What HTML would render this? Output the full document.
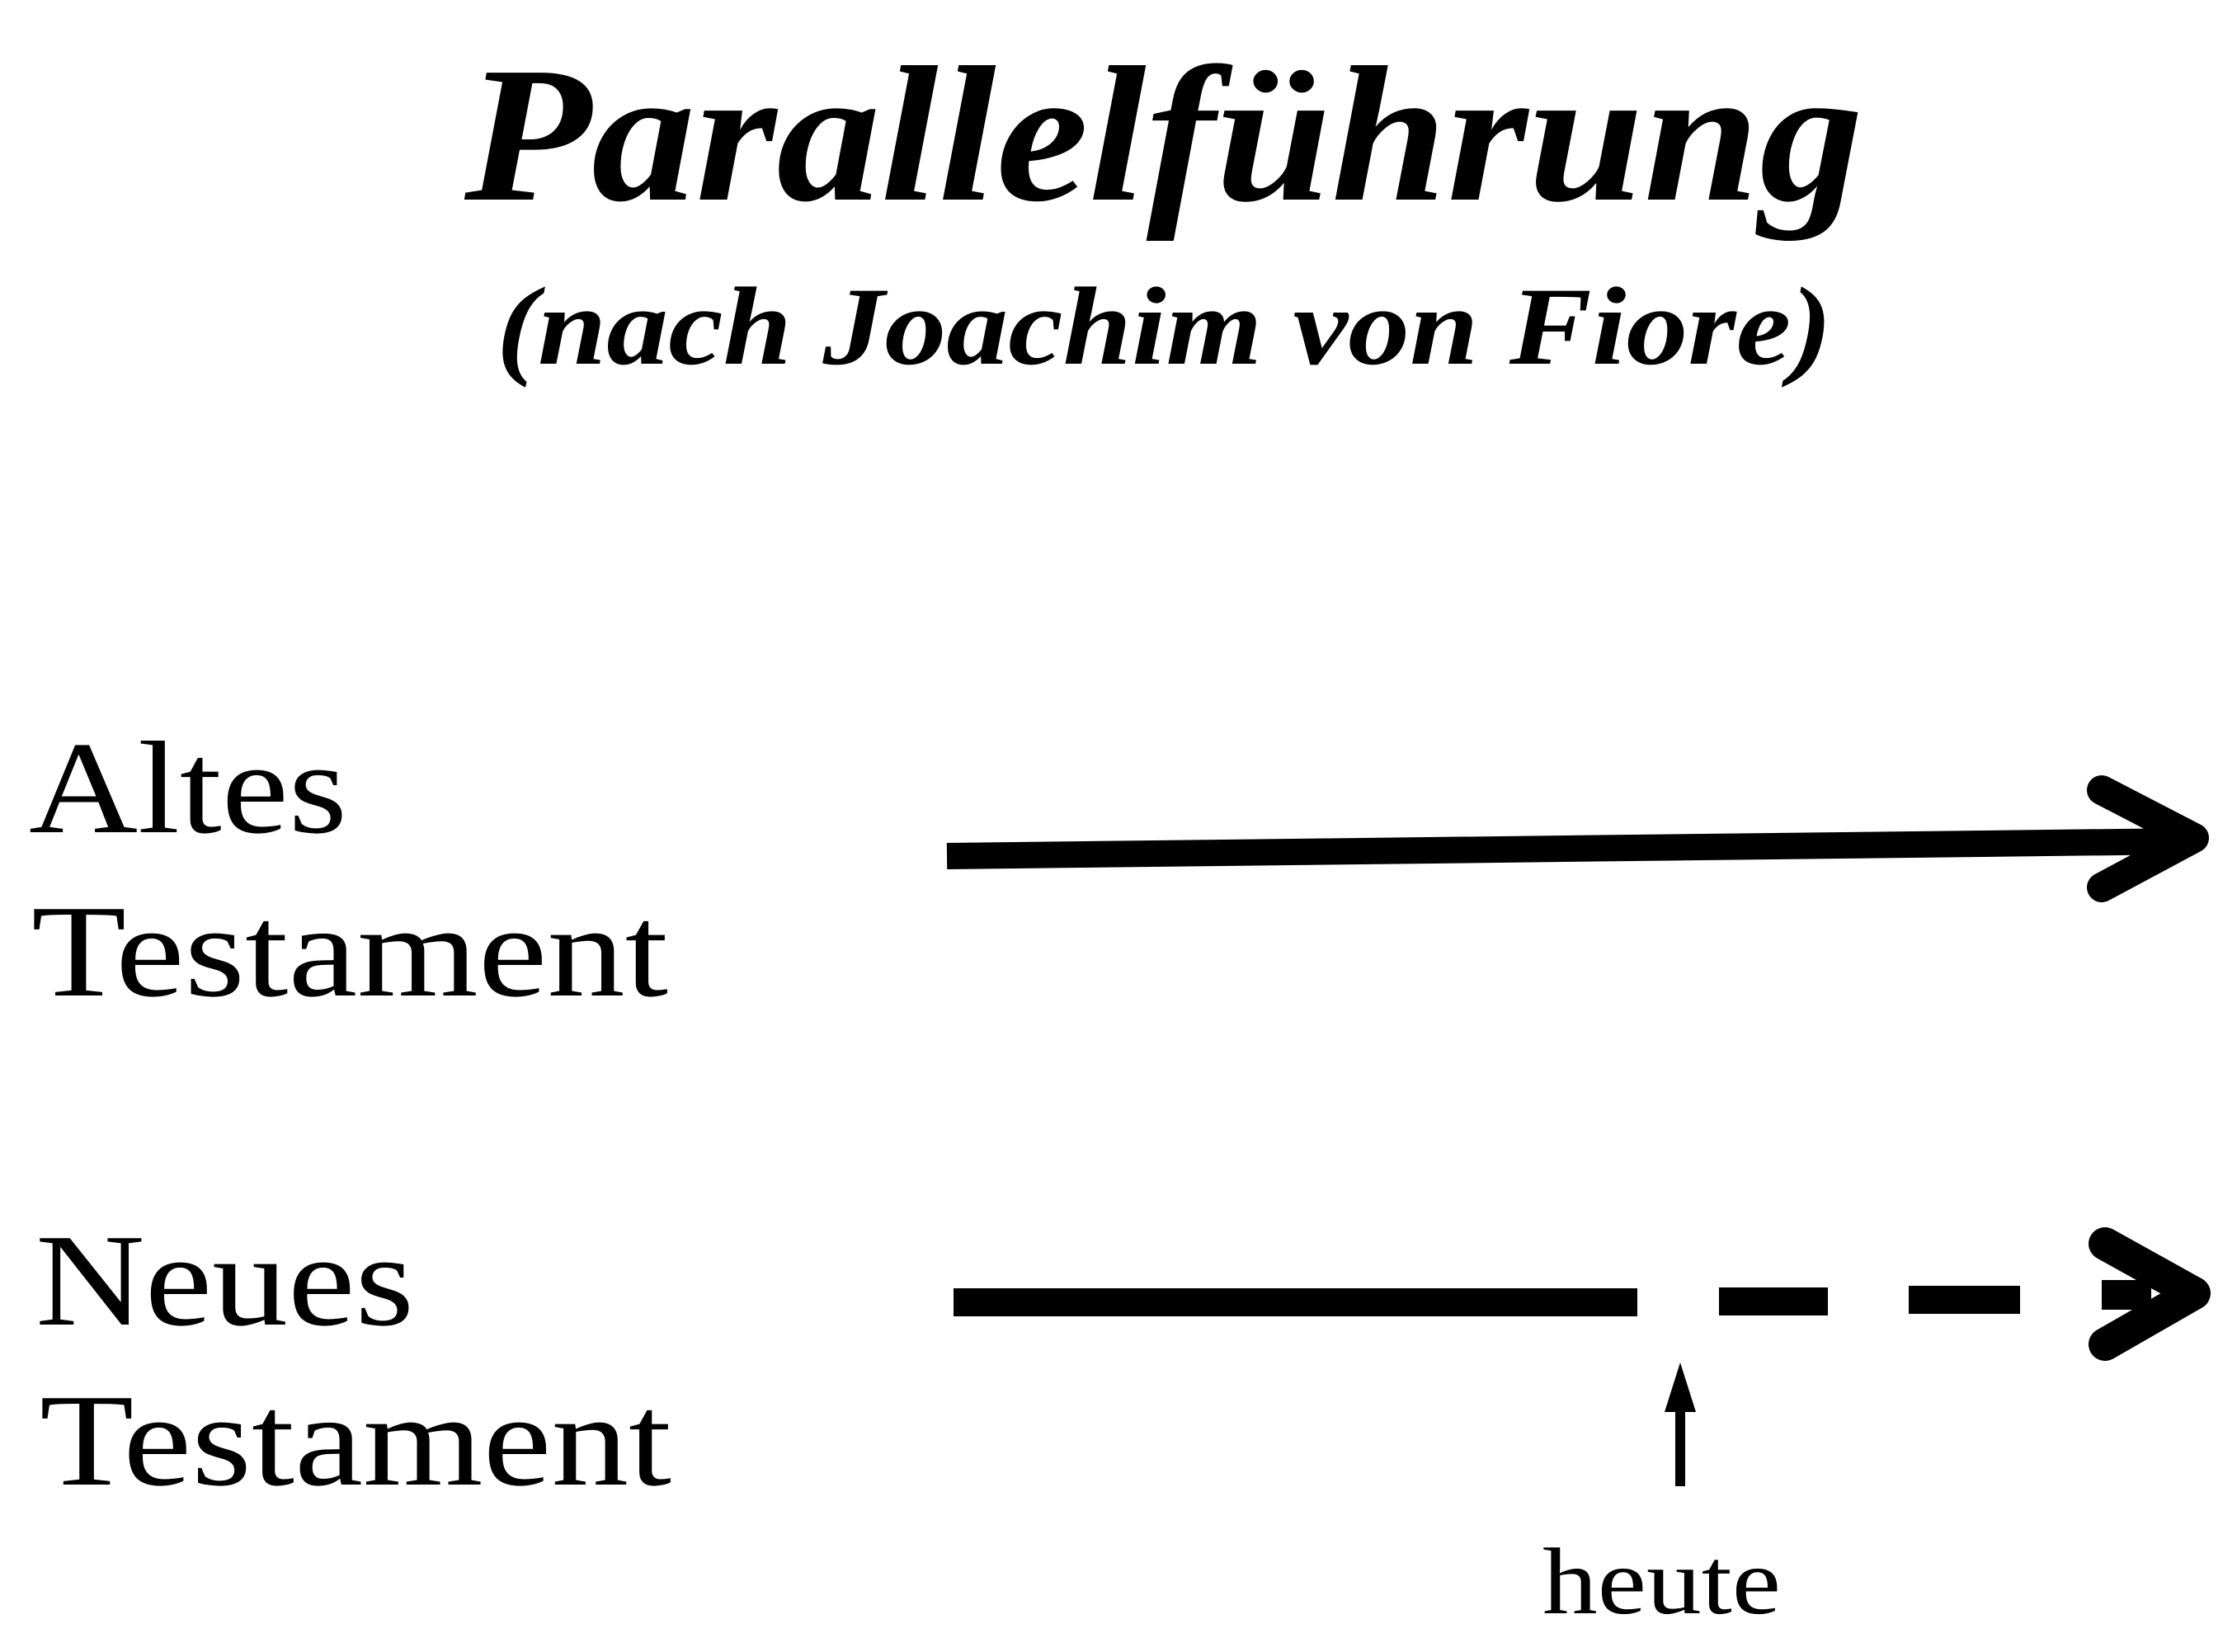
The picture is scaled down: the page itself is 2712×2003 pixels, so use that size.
<!DOCTYPE html>
<html><head><meta charset="utf-8"><style>
html,body{margin:0;padding:0;background:#fff;}
svg{display:block;}
text{font-family:"Liberation Serif",serif;fill:#000;}
</style></head><body>
<svg width="2712" height="2003" viewBox="0 0 2712 2003" xmlns="http://www.w3.org/2000/svg">
<text x="563" y="242" font-size="235" font-weight="bold" font-style="italic" textLength="1696" lengthAdjust="spacingAndGlyphs">Parallelführung</text>
<text x="602" y="441" font-size="135" font-weight="bold" font-style="italic" textLength="1619" lengthAdjust="spacingAndGlyphs">(nach Joachim von Fiore)</text>

<text x="35" y="1009" font-size="160" textLength="386" lengthAdjust="spacingAndGlyphs">Altes</text>
<text x="38" y="1207" font-size="160" textLength="772" lengthAdjust="spacingAndGlyphs">Testament</text>
<text x="43" y="1606" font-size="160" textLength="459" lengthAdjust="spacingAndGlyphs">Neues</text>
<text x="48" y="1800" font-size="160" textLength="766" lengthAdjust="spacingAndGlyphs">Testament</text>
<text x="1870" y="1956" font-size="115" textLength="289" lengthAdjust="spacingAndGlyphs">heute</text>

<!-- arrow 1 -->
<line x1="1148" y1="1038" x2="2650" y2="1020" stroke="#000" stroke-width="32"/>
<polyline points="2548,958 2660,1016 2548,1076" fill="none" stroke="#000" stroke-width="36" stroke-linecap="round" stroke-linejoin="round"/>

<!-- arrow 2 -->
<rect x="1156" y="1562" width="829" height="34" fill="#000"/>
<rect x="2084" y="1561" width="132" height="34" fill="#000"/>
<rect x="2314" y="1559" width="135" height="34" fill="#000"/>
<rect x="2548" y="1552" width="60" height="36" fill="#000"/>
<polyline points="2552,1508 2660,1568 2552,1630" fill="none" stroke="#000" stroke-width="40" stroke-linecap="round" stroke-linejoin="round"/>

<!-- heute arrow -->
<line x1="2037" y1="1802" x2="2037" y2="1700" stroke="#000" stroke-width="12"/>
<polygon points="2037,1652 2018,1712 2056,1712" fill="#000"/>
</svg>
</body></html>
